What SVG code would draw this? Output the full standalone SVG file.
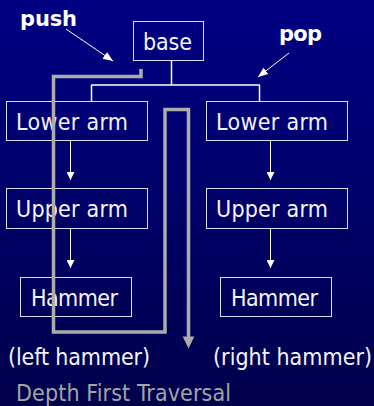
<svg xmlns="http://www.w3.org/2000/svg" width="374" height="406" viewBox="0 0 374 406">
  <defs>
    <linearGradient id="bg" x1="0" y1="0" x2="0" y2="1">
      <stop offset="0" stop-color="#000084"/>
      <stop offset="1" stop-color="#00004c"/>
    </linearGradient>
    <marker id="ah" viewBox="0 0 10 10" refX="10" refY="5" markerWidth="8" markerHeight="8" markerUnits="userSpaceOnUse" orient="auto">
      <path d="M0,0 L10,5 L0,10 z" fill="#ffffff"/>
    </marker>
    <marker id="ah2" viewBox="0 0 10 10" refX="10" refY="5" markerWidth="10" markerHeight="10" markerUnits="userSpaceOnUse" orient="auto">
      <path d="M0,1 L10,5 L0,9 z" fill="#ffffff"/>
    </marker>
  </defs>
  <style>
    .box { fill: none; stroke: #dcdcf0; stroke-width: 1; }
    .lbl { font-family: "DejaVu Sans Condensed", "DejaVu Sans", sans-serif; font-stretch: condensed; font-size: 23px; fill: #f4f4ff; }
    .bold { font-family: "DejaVu Sans", sans-serif; font-weight: bold; font-size: 21px; fill: #ffffff; }
    .cap { fill: #a4a4a4; }
    .wire { fill: none; stroke: #ffffff; stroke-width: 1.5; }
    .thin { fill: none; stroke: #ffffff; stroke-width: 1; }
    .trav { fill: none; stroke: #acacac; stroke-width: 3.5; stroke-linejoin: miter; stroke-linecap: butt; }
  </style>
  <rect x="0" y="0" width="374" height="406" fill="url(#bg)"/>

  <g id="connectors">
    <path class="wire" d="M171.5,61 V85 M91,85 H260 M91.5,85 V101 M259.5,85 V101"/>
    <line class="thin" x1="70.5" y1="140" x2="70.5" y2="180" marker-end="url(#ah)"/>
    <line class="thin" x1="70.5" y1="228" x2="70.5" y2="268" marker-end="url(#ah)"/>
    <line class="thin" x1="270.5" y1="140" x2="270.5" y2="180" marker-end="url(#ah)"/>
    <line class="thin" x1="270.5" y1="228" x2="270.5" y2="268" marker-end="url(#ah)"/>
    <line class="thin" x1="66" y1="29" x2="113" y2="61" marker-end="url(#ah2)"/>
    <line class="thin" x1="289" y1="53" x2="258" y2="77" marker-end="url(#ah2)"/>
  </g>

  <g id="node-base">
    <rect class="box" x="133.5" y="21.5" width="70" height="39"/>
    <text class="lbl" x="143" y="50" textLength="49">base</text>
  </g>
  <g id="node-lower-left">
    <rect class="box" x="6.5" y="101.5" width="141" height="39"/>
    <text class="lbl" x="16" y="130" textLength="112">Lower arm</text>
  </g>
  <g id="node-lower-right">
    <rect class="box" x="206.5" y="101.5" width="141" height="39"/>
    <text class="lbl" x="216" y="130" textLength="112">Lower arm</text>
  </g>
  <g id="node-upper-left">
    <rect class="box" x="6.5" y="188.5" width="141" height="40"/>
    <text class="lbl" x="16" y="217" textLength="112">Upper arm</text>
  </g>
  <g id="node-upper-right">
    <rect class="box" x="206.5" y="188.5" width="141" height="40"/>
    <text class="lbl" x="216" y="217" textLength="112">Upper arm</text>
  </g>
  <g id="node-hammer-left">
    <rect class="box" x="20.5" y="277.5" width="111" height="39"/>
    <text class="lbl" x="31" y="306" textLength="87">Hammer</text>
  </g>
  <g id="node-hammer-right">
    <rect class="box" x="220.5" y="277.5" width="111" height="39"/>
    <text class="lbl" x="231" y="306" textLength="87">Hammer</text>
  </g>

  <g id="labels">
    <text class="bold" x="20" y="26" textLength="57">push</text>
    <text class="bold" x="279" y="41" textLength="43">pop</text>
    <text class="lbl" x="8" y="365" textLength="142">(left hammer)</text>
    <text class="lbl" x="213" y="365" textLength="159">(right hammer)</text>
    <text class="lbl cap" x="16" y="401" textLength="215">Depth First Traversal</text>
  </g>

  <g id="traversal">
    <path class="trav" d="M141,69 V76.5 H53.5 V332 H165 V109.5 H188.5 V338"/>
    <path d="M182.7,336.5 H194.3 L188.5,348.5 z" fill="#acacac"/>
  </g>
</svg>
